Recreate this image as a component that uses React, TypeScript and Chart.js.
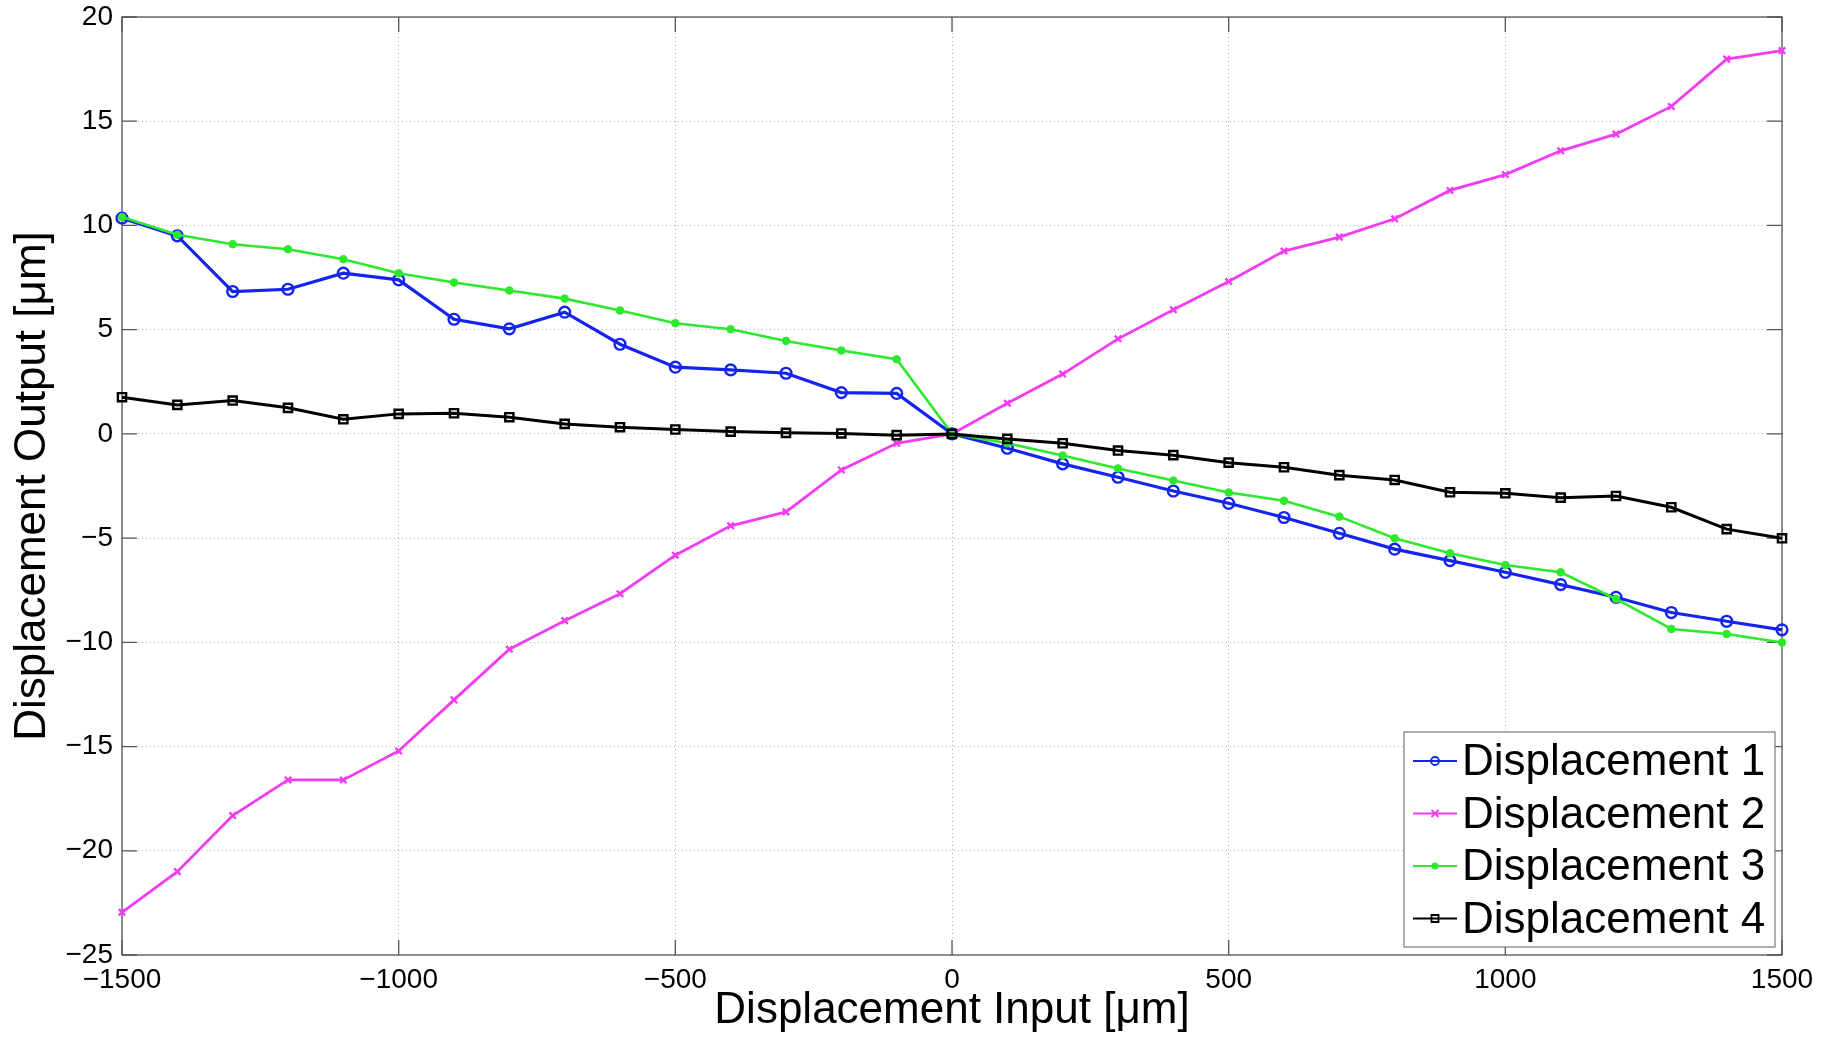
import React, { useEffect, useRef } from "react";
import { Chart, registerables } from "chart.js";

Chart.register(...registerables);

// ---------- data ----------
const inputs = [
  -1500, -1400, -1300, -1200, -1100, -1000, -900, -800, -700, -600, -500, -400, -300, -200, -100,
  0, 100, 200, 300, 400, 500, 600, 700, 800, 900, 1000, 1100, 1200, 1300, 1400, 1500,
];

const displacement1 = [
  10.35, 9.5, 6.83, 6.94, 7.71, 7.39, 5.5, 5.04, 5.84, 4.3, 3.2, 3.07, 2.91, 1.98, 1.94,
  0, -0.69, -1.44, -2.08, -2.74, -3.33, -4.01, -4.77, -5.53, -6.08, -6.64, -7.23, -7.84, -8.57, -8.99, -9.4,
];

const displacement2 = [
  -22.95, -21.0, -18.31, -16.6, -16.6, -15.21, -12.76, -10.33, -8.96, -7.67, -5.82, -4.41, -3.74, -1.73, -0.45,
  0, 1.47, 2.87, 4.56, 5.96, 7.31, 8.77, 9.44, 10.32, 11.68, 12.44, 13.58, 14.38, 15.71, 17.98, 18.39,
];

const displacement3 = [
  10.4, 9.55, 9.1, 8.86, 8.38, 7.71, 7.26, 6.88, 6.49, 5.92, 5.31, 5.02, 4.46, 4.0, 3.58,
  0, -0.45, -1.04, -1.66, -2.24, -2.81, -3.21, -3.97, -5.01, -5.73, -6.29, -6.64, -7.92, -9.36, -9.6, -10.01,
];

const displacement4 = [
  1.76, 1.39, 1.6, 1.25, 0.7, 0.96, 0.99, 0.8, 0.48, 0.32, 0.21, 0.11, 0.05, 0.02, -0.06,
  0, -0.24, -0.45, -0.8, -1.02, -1.38, -1.6, -1.98, -2.21, -2.8, -2.85, -3.06, -2.98, -3.52, -4.57, -5.01,
];

const seriesNames = ["Displacement 1", "Displacement 2", "Displacement 3", "Displacement 4"];
const xTicks = [-1500, -1000, -500, 0, 500, 1000, 1500];
const yTicks = [20, 15, 10, 5, 0, -5, -10, -15, -20, -25];
const xTitle = "Displacement Input [\u03bcm]";
const yTitle = "Displacement Output [\u03bcm]";

// ---------- styles ----------
const FONT = '"Liberation Sans", Arial, Helvetica, sans-serif';
const BLUE = "#1424f0";
const MAGENTA = "#f23cf2";
const GREEN = "#2ee82e";
const BLACK = "#000000";
const AXIS = "#555555";

const fmt = (v: number) => (v < 0 ? "\u2212" + Math.abs(v) : String(v));

type MarkerKind = "circleOpen" | "crossRot" | "circleFill" | "rectOpen";
const markerKinds: MarkerKind[] = ["circleOpen", "crossRot", "circleFill", "rectOpen"];
const colors = [BLUE, MAGENTA, GREEN, BLACK];

function drawMarker(ctx: CanvasRenderingContext2D, kind: MarkerKind, x: number, y: number, color: string) {
  ctx.save();
  ctx.strokeStyle = color;
  ctx.fillStyle = color;
  ctx.lineWidth = 1.8;
  ctx.beginPath();
  if (kind === "circleOpen") {
    ctx.arc(x, y, 4, 0, Math.PI * 2);
    ctx.stroke();
  } else if (kind === "circleFill") {
    ctx.arc(x, y, 3.5, 0, Math.PI * 2);
    ctx.fill();
  } else if (kind === "crossRot") {
    const s = 3.5;
    ctx.moveTo(x - s, y - s);
    ctx.lineTo(x + s, y + s);
    ctx.moveTo(x - s, y + s);
    ctx.lineTo(x + s, y - s);
    ctx.stroke();
  } else {
    ctx.rect(x - 3.5, y - 3.5, 7, 7);
    ctx.stroke();
  }
  ctx.restore();
}

const matlabPlugin = {
  id: "matlabBox",
  beforeDatasetsDraw(chart: any) {
    const { ctx, chartArea: a, scales } = chart;
    ctx.save();
    ctx.strokeStyle = AXIS;
    ctx.lineWidth = 1.3;
    ctx.strokeRect(a.left, a.top, a.right - a.left, a.bottom - a.top);
    const L = 15;
    ctx.beginPath();
    for (const v of xTicks) {
      const px = scales.x.getPixelForValue(v);
      ctx.moveTo(px, a.bottom);
      ctx.lineTo(px, a.bottom - L);
      ctx.moveTo(px, a.top);
      ctx.lineTo(px, a.top + L);
    }
    for (const v of yTicks) {
      const py = scales.y.getPixelForValue(v);
      ctx.moveTo(a.left, py);
      ctx.lineTo(a.left + L, py);
      ctx.moveTo(a.right, py);
      ctx.lineTo(a.right - L, py);
    }
    ctx.stroke();
    ctx.restore();
  },
  afterDatasetsDraw(chart: any) {
    const { ctx, chartArea: a } = chart;
    const w = 371;
    const h = 215;
    const right = a.right - 7;
    const bottom = a.bottom - 8;
    const left = right - w;
    const top = bottom - h;
    ctx.save();
    ctx.fillStyle = "#ffffff";
    ctx.fillRect(left, top, w, h);
    ctx.strokeStyle = "#7a7a7a";
    ctx.lineWidth = 1.2;
    ctx.strokeRect(left, top, w, h);
    ctx.font = `44px ${FONT}`;
    ctx.textBaseline = "middle";
    ctx.textAlign = "left";
    chart.data.datasets.forEach((ds: any, i: number) => {
      const cy = top + 29 + i * 52.5;
      ctx.strokeStyle = colors[i];
      ctx.lineWidth = 2.2;
      ctx.beginPath();
      ctx.moveTo(left + 9, cy);
      ctx.lineTo(left + 53, cy);
      ctx.stroke();
      drawMarker(ctx, markerKinds[i], left + 31, cy, colors[i]);
      ctx.fillStyle = "#000000";
      ctx.fillText(ds.label, left + 58, cy + 2);
    });
    ctx.restore();
  },
};

export default function App() {
  const canvasRef = useRef<HTMLCanvasElement | null>(null);

  useEffect(() => {
    const canvas = canvasRef.current;
    if (!canvas) return;
    const mk = (arr: number[]) => inputs.map((x, i) => ({ x, y: arr[i] }));
    const chart = new Chart(canvas, {
      type: "line",
      data: {
        datasets: [
          {
            label: seriesNames[0],
            data: mk(displacement1),
            borderColor: BLUE,
            borderWidth: 3.2,
            pointStyle: "circle",
            pointRadius: 5.4,
            pointBorderWidth: 2.4,
            pointBorderColor: BLUE,
            pointBackgroundColor: "rgba(0,0,0,0)",
            order: 3,
            clip: false,
          } as any,
          {
            label: seriesNames[1],
            data: mk(displacement2),
            borderColor: MAGENTA,
            borderWidth: 2.8,
            pointStyle: "crossRot",
            pointRadius: 4.5,
            pointBorderWidth: 2.4,
            pointBorderColor: MAGENTA,
            pointBackgroundColor: MAGENTA,
            order: 2,
            clip: false,
          },
          {
            label: seriesNames[2],
            data: mk(displacement3),
            borderColor: GREEN,
            borderWidth: 2.6,
            pointStyle: "circle",
            pointRadius: 3.8,
            pointBorderWidth: 1,
            pointBorderColor: GREEN,
            pointBackgroundColor: GREEN,
            order: 1,
            clip: false,
          },
          {
            label: seriesNames[3],
            data: mk(displacement4),
            borderColor: BLACK,
            borderWidth: 3,
            pointStyle: "rect",
            pointRadius: 5.8,
            pointBorderWidth: 2.4,
            pointBorderColor: BLACK,
            pointBackgroundColor: "rgba(0,0,0,0)",
            order: 0,
            clip: false,
          },
        ],
      },
      options: {
        responsive: false,
        animation: false,
        devicePixelRatio: 1,
        layout: { padding: { left: 0, right: 51, top: 0, bottom: 0 } },
        plugins: {
          legend: { display: false },
          tooltip: { enabled: false },
          title: { display: false },
        },
        elements: { line: { tension: 0 } },
        scales: {
          x: {
            type: "linear",
            min: -1500,
            max: 1500,
            afterBuildTicks: (scale: any) => {
              scale.ticks = xTicks.map((v) => ({ value: v }));
            },
            afterFit: (scale: any) => {
              scale.height = 83;
              scale.paddingLeft = 0;
              scale.paddingRight = 0;
            },
            grid: {
              color: "#b4b4b4",
              lineWidth: 1,
              drawTicks: false,
            },
            border: { display: false, dash: [1, 3] },
            ticks: {
              color: "#000000",
              font: { family: FONT, size: 28 },
              padding: 8,
              maxRotation: 0,
              autoSkip: false,
              callback: (v: any) => fmt(Number(v)),
            },
            title: {
              display: true,
              text: xTitle,
              color: "#000000",
              font: { family: FONT, size: 44, lineHeight: 1 },
              padding: { top: 0, bottom: 5 },
            },
          },
          y: {
            type: "linear",
            min: -25,
            max: 20,
            afterBuildTicks: (scale: any) => {
              scale.ticks = yTicks.map((v) => ({ value: v }));
            },
            afterFit: (scale: any) => {
              scale.width = 122;
              scale.paddingTop = 17;
              scale.paddingBottom = 0;
            },
            grid: {
              color: "#b4b4b4",
              lineWidth: 1,
              drawTicks: false,
            },
            border: { display: false, dash: [1, 3] },
            ticks: {
              color: "#000000",
              font: { family: FONT, size: 28 },
              padding: 9,
              autoSkip: false,
              callback: (v: any) => fmt(Number(v)),
            },
            title: {
              display: true,
              text: yTitle,
              color: "#000000",
              font: { family: FONT, size: 44, lineHeight: 1 },
              padding: { top: 11, bottom: 0 },
            },
          },
        },
      },
      plugins: [matlabPlugin],
    } as any);
    return () => chart.destroy();
  }, []);

  return (
    <div style={{ position: "fixed", left: 0, top: 0, width: 1833, height: 1038, background: "#ffffff" }}>
      <canvas ref={canvasRef} width={1833} height={1038} style={{ display: "block", width: 1833, height: 1038 }} />
    </div>
  );
}
